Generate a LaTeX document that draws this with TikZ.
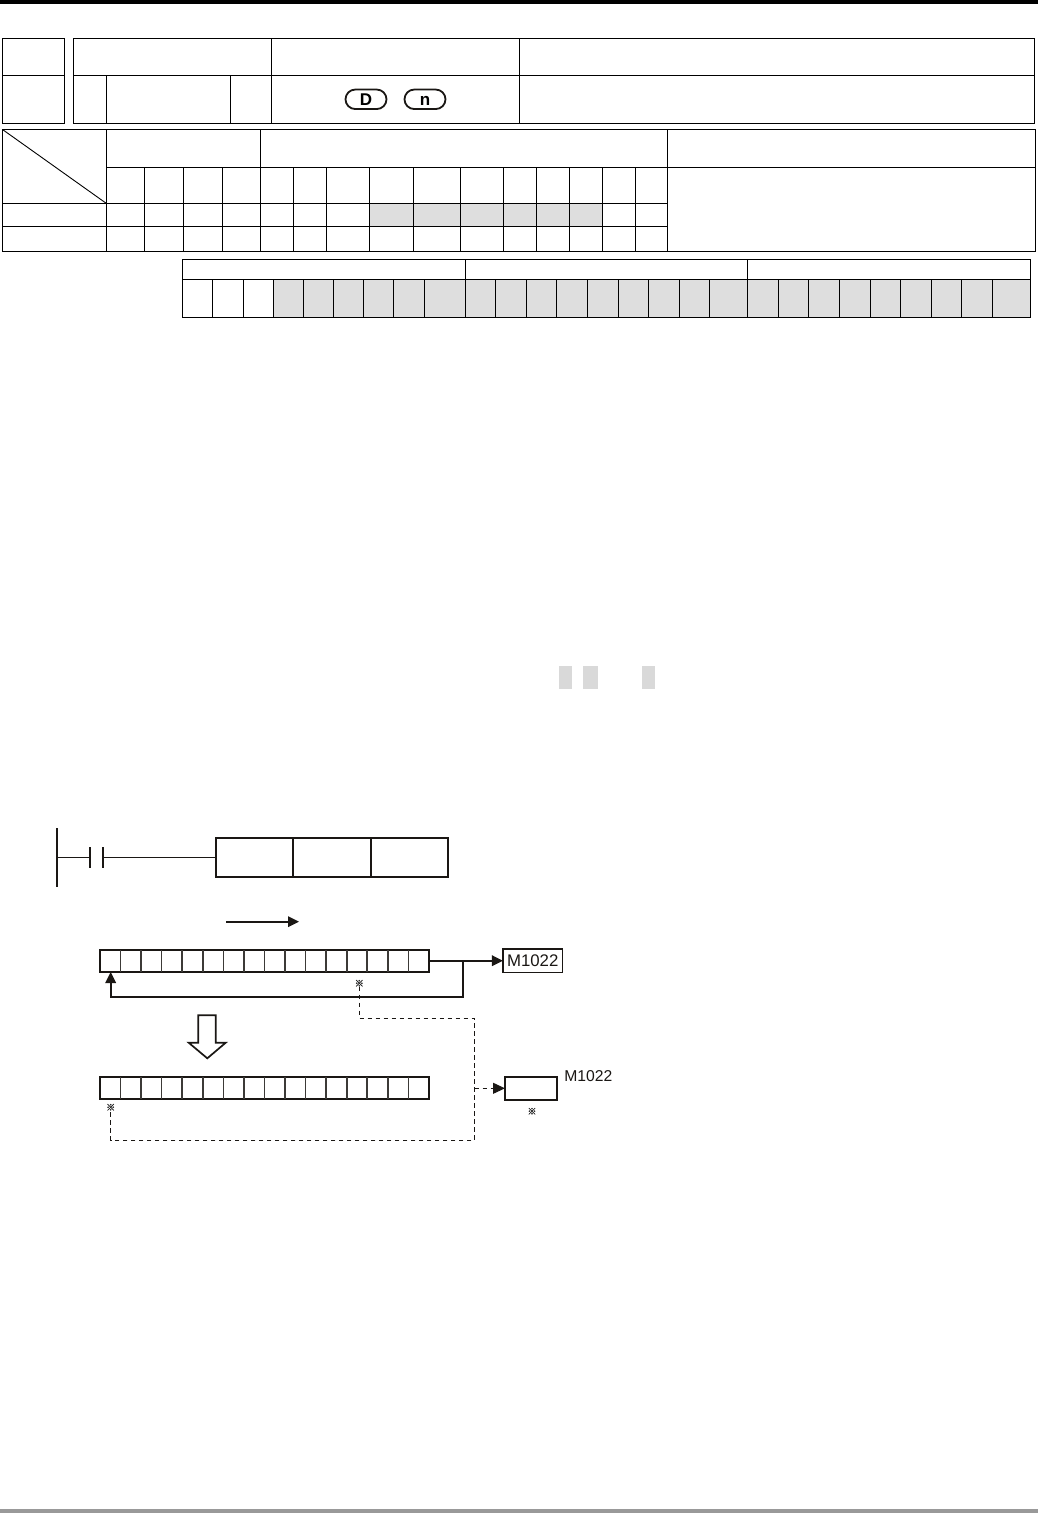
\documentclass[tikz,border=0pt]{standalone}
\usepackage{fontspec}
\setmainfont{Liberation Sans}
\newfontfamily\cjkmark[FakeBold=2.5]{Noto Sans CJK SC}
\usetikzlibrary{arrows.meta,shapes.misc,calc}
\definecolor{cellshade}{HTML}{DEDEDE}
\definecolor{inkdark}{HTML}{1A1714}
\tikzset{
  gridline/.style={draw=black,line width=1.3pt},
  shadecell/.style={fill=cellshade,draw=none},
  pill/.style={rounded rectangle,draw=inkdark,line width=1.8pt,minimum width=41pt,minimum height=19.5pt,inner sep=0pt,outer sep=0pt,text height=12.2pt,text depth=0pt,font=\fontsize{17}{17}\selectfont\bfseries},
  ladderline/.style={draw=inkdark,line width=1.1pt},
  ladderbar/.style={draw=inkdark,line width=2pt},
  regbox/.style={rectangle,draw=inkdark,line width=1.8pt,inner sep=0pt,outer sep=0pt,minimum width=329pt,minimum height=22pt},
  regsep/.style={draw=inkdark!85,line width=1.6pt},
  flowline/.style={draw=inkdark,line width=1.7pt},
  flowhead/.style={-{Triangle[length=11pt,width=10.5pt]}},
  dashline/.style={draw=inkdark,line width=1pt,dash pattern=on 4.5pt off 3.5pt},
  refmark/.style={inner sep=0pt,outer sep=0pt,text=black!85,font=\fontsize{9}{9}\selectfont\cjkmark},
  bitlabel/.style={inner sep=0pt,outer sep=0pt,text=inkdark,font=\fontsize{15.7}{15.7}\selectfont}
}
\begin{document}
\begin{tikzpicture}[x=1pt,y=-1pt]
\useasboundingbox (0,0) rectangle (1038,1513);
\fill[black] (0,0) rectangle (1038,4);
\fill[black!40] (0,1509) rectangle (1038,1513);

% ---- heading tables
\draw[gridline] (2.5,38.5) rectangle (64.5,123.5);
\draw[gridline] (2.5,75.5) -- (64.5,75.5);
\draw[gridline] (73.5,38.5) rectangle (1034.5,123.5);
\draw[gridline] (73.5,75.5) -- (1034.5,75.5);
\foreach \x in {271.5,519.5} \draw[gridline] (\x,38.5) -- (\x,123.5);
\foreach \x in {106.5,230.5} \draw[gridline] (\x,75.5) -- (\x,123.5);
\node[pill] (pillD) at (366,99.3) {D};
\node[pill] (pillN) at (425,99.3) {n};

% ---- operand table
\fill[shadecell] (369.5,203.5) rectangle (602.5,226.5);
\draw[gridline] (2.5,129.5) rectangle (1035.5,251.5);
\draw[gridline] (106.5,167.5) -- (1035.5,167.5);
\draw[gridline] (2.5,203.5) -- (667.5,203.5);
\draw[gridline] (2.5,226.5) -- (667.5,226.5);
\draw[gridline] (106.5,129.5) -- (106.5,251.5);
\draw[gridline] (260.5,129.5) -- (260.5,251.5);
\draw[gridline] (667.5,129.5) -- (667.5,251.5);
\foreach \x in {144.5,183.5,222.5,293.5,326.5,369.5,413.5,460.5,503.5,536.5,569.5,602.5,635.5}
  \draw[gridline] (\x,167.5) -- (\x,251.5);
\draw[draw=black,line width=0.9pt] (2.5,129.5) -- (106.5,203.5);

% ---- pulse / 16-bit / 32-bit table
\fill[shadecell] (273.5,279.5) rectangle (1030.5,317.5);
\draw[gridline] (182.5,259.5) rectangle (1030.5,317.5);
\draw[gridline] (182.5,279.5) -- (1030.5,279.5);
\foreach \x in {465.5,747.5} \draw[gridline] (\x,259.5) -- (\x,317.5);
\foreach \x in {212.5,243.5,273.5,303.5,333.5,363.5,393.5,424.5,495.5,526.5,556.5,587.5,618.5,648.5,679.5,709.5,778.5,808.5,839.5,870.5,900.5,931.5,961.5,992.5}
  \draw[gridline] (\x,279.5) -- (\x,317.5);

% ---- grey highlights in the text
\fill[black!15] (559,666) rectangle (572,689);
\fill[black!15] (583,666) rectangle (598,689);
\fill[black!15] (642,666) rectangle (655,689);

% ---- ladder rung
\coordinate (busT) at (57,828);
\coordinate (busB) at (57,887);
\coordinate (busM) at (57,857.5);
\coordinate (contA) at (90,857.5);
\coordinate (contB) at (103,857.5);
\node[rectangle,draw=inkdark,line width=2pt,inner sep=0pt,outer sep=0pt,minimum width=232pt,minimum height=39pt] (instr) at (332,857.5) {};
\draw[ladderbar] (busT) -- (busB);
\draw[ladderline] (busM) -- (contA);
\draw[ladderline] (contB) -- (instr.west);
\draw[ladderbar] ($(contA)+(0,-10.5)$) -- ($(contA)+(0,10.5)$);
\draw[ladderbar] ($(contB)+(0,-10.5)$) -- ($(contB)+(0,10.5)$);
\foreach \x in {293,371} \draw[ladderbar] (\x,838) -- (\x,877);

% ---- direction arrow
\coordinate (dirA) at (226,921.7);
\coordinate (dirB) at (299,921.7);
\draw[flowline,flowhead] (dirA) -- (dirB);

% ---- register before rotation
\node[regbox] (regA) at (264.5,961) {};
\foreach \i in {1,...,15} \draw[regsep] ($(regA.west)+(\i*20.56,-11)$) -- ($(regA.west)+(\i*20.56,11)$);
\node[rectangle,draw=inkdark,line width=1.5pt,inner sep=0pt,outer sep=0pt,minimum width=59.5pt,minimum height=23.5pt,bitlabel,font=\fontsize{16.8}{16.8}\selectfont] (flagA) at (532.7,960.7) {M1022};
\coordinate (split) at (463.3,960.7);
\coordinate (backR) at (463.3,996.7);
\coordinate (backL) at (110.7,996.7);
\coordinate (backT) at (110.7,972);
\draw[flowline,flowhead] (regA.east |- split) -- (flagA.west);
\draw[flowline,flowhead] (split) -- (backR) -- (backL) -- (backT);

% ---- hollow arrow
\draw[draw=inkdark,line width=1.7pt,fill=white,line join=miter]
  (198.3,1015.3) -- (215.7,1015.3) -- (215.7,1042.7) -- (225.7,1042.7) -- (207.3,1058.3) -- (188.7,1042.7) -- (198.3,1042.7) -- cycle;

% ---- register after rotation
\node[regbox] (regB) at (264.5,1088) {};
\foreach \i in {1,...,15} \draw[regsep] ($(regB.west)+(\i*20.56,-11)$) -- ($(regB.west)+(\i*20.56,11)$);
\node[rectangle,draw=inkdark,line width=1.7pt,inner sep=0pt,outer sep=0pt,minimum width=52pt,minimum height=23.3pt] (flagB) at (531,1088.3) {};
\node[bitlabel,anchor=west] (flagBname) at (564.3,1075.7) {M1022};

% ---- marks and dashed links
\node[refmark] (markA) at (359.3,983.3) {※};
\node[refmark] (markB) at (110.7,1107.3) {※};
\node[refmark] (markC) at (532,1111.3) {※};
\coordinate (d1) at (359.3,1018.3);
\coordinate (d2) at (474.7,1018.3);
\coordinate (d3) at (474.7,1140);
\coordinate (d4) at (110.7,1140);
\coordinate (dj) at (474.7,1088.3);
\draw[dashline] (markA.south) -- (d1) -- (d2) -- (d3) -- (d4) -- (markB.south);
\draw[dashline] (dj) -- ($(dj)+(19,0)$);
\coordinate (dh) at ($(dj)+(18,0)$);
\draw[draw=inkdark,line width=1pt,-{Triangle[length=12pt,width=11pt]}] (dh) -- (flagB.west);
\end{tikzpicture}
\end{document}
